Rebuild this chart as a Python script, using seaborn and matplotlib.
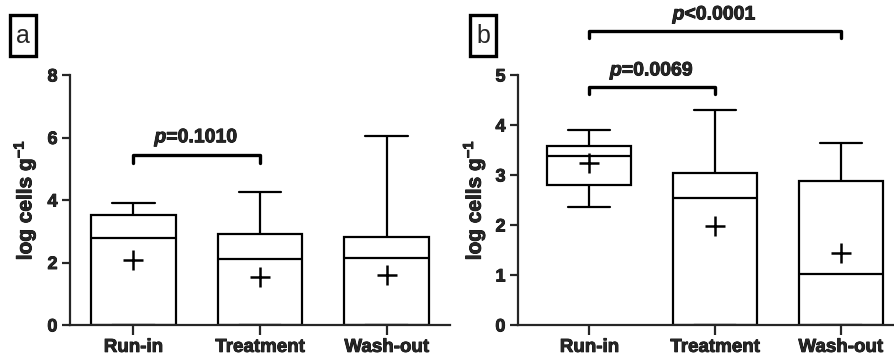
import numpy as np
import pandas as pd
import matplotlib
matplotlib.use("Agg")
import matplotlib.pyplot as plt
import matplotlib.patheffects as pe
from matplotlib.patches import Rectangle
import seaborn as sns

# ---------------- data ----------------
categories = ["Run-in", "Treatment", "Wash-out"]

# panel a: five-number summaries and means
a_min = [0.0, 0.0, 0.0]
a_q1 = [0.0, 0.0, 0.0]
a_median = [2.80, 2.10, 2.13]
a_q3 = [3.52, 2.90, 2.82]
a_max = [3.90, 4.27, 6.05]
a_mean = [2.08, 1.55, 1.60]

# panel b
b_min = [2.36, 0.0, 0.0]
b_q1 = [2.81, 0.0, 0.0]
b_median = [3.38, 2.54, 1.02]
b_q3 = [3.59, 3.05, 2.89]
b_max = [3.90, 4.30, 3.65]
b_mean = [3.25, 1.99, 1.44]

# comparisons: (group i, group j, label)
a_tests = [(0, 1, "=0.1010")]
b_tests = [(0, 1, "=0.0069"), (0, 2, "<0.0001")]

a_yticks = [0, 2, 4, 6, 8]
b_yticks = [0, 1, 2, 3, 4, 5]

# ---------------- style ----------------
sns.set_style("ticks")
plt.rcParams["font.family"] = ["Liberation Sans", "DejaVu Sans"]
plt.rcParams["font.weight"] = "bold"
plt.rcParams["axes.labelweight"] = "bold"
plt.rcParams["mathtext.fontset"] = "custom"
plt.rcParams["mathtext.rm"] = "Liberation Sans:bold"
plt.rcParams["mathtext.bf"] = "Liberation Sans:bold"
plt.rcParams["mathtext.it"] = "Liberation Sans:italic:bold"

thick = [pe.withStroke(linewidth=0.6, foreground="black")]


def long_frame(mins, q1s, meds, q3s, maxs):
    rows = []
    for c, vals in zip(categories, zip(mins, q1s, meds, q3s, maxs)):
        for v in vals:
            rows.append({"period": c, "value": v})
    return pd.DataFrame(rows)


fig = plt.figure(figsize=(8.95, 3.55), dpi=100)
ax_a = fig.add_axes([70 / 895, 30 / 355, 380 / 895, 250 / 355])
ax_b = fig.add_axes([518 / 895, 30 / 355, 377 / 895, 250 / 355])


def draw_panel(ax, df, means, yticks, xlim, tests, bracket_y, drop, text_gap):
    sns.boxplot(data=df, x="period", y="value", order=categories, whis=(0, 100),
                width=0.67, color="white", linecolor="black", linewidth=1.6,
                saturation=1, ax=ax)
    sns.pointplot(x=categories, y=means, order=categories, color="black",
                  marker="+", linestyle="none", markersize=15,
                  markeredgewidth=1.8, errorbar=None, ax=ax)
    ax.set_ylim(yticks[0], yticks[-1])
    ax.set_yticks(yticks)
    ax.set_xlim(*xlim)
    ax.set_xlabel("")
    ax.set_ylabel(r"log cells g$^{-1}$", fontsize=15, fontweight="bold",
                  path_effects=thick)
    ax.tick_params(axis="y", labelsize=13, width=1.6, length=6, pad=3)
    ax.tick_params(axis="x", labelsize=13.5, width=1.6, length=7, pad=3)
    for lab in ax.get_xticklabels() + ax.get_yticklabels():
        lab.set_fontweight("bold")
        lab.set_path_effects(thick)
    sns.despine(ax=ax)
    for s in ["left", "bottom"]:
        ax.spines[s].set_linewidth(1.6)
    for (i, j, lab), by in zip(tests, bracket_y):
        ax.plot([i, i, j, j], [by - drop, by, by, by - drop], color="black",
                lw=2.4, solid_capstyle="round", solid_joinstyle="round",
                clip_on=False)
        ax.text((i + j) / 2, by + text_gap, r"$p$" + lab, ha="center",
                va="center", fontsize=14, fontweight="bold", clip_on=False,
                path_effects=thick)


draw_panel(ax_a, long_frame(a_min, a_q1, a_median, a_q3, a_max), a_mean,
           a_yticks, (-0.5, 2.5), a_tests, [5.44], 0.26, 0.55)
draw_panel(ax_b, long_frame(b_min, b_q1, b_median, b_q3, b_max), b_mean,
           b_yticks, (-0.568, 2.432), b_tests, [4.77, 5.89], 0.155, 0.31)

ax_a.yaxis.set_label_coords(-0.085, 0.5)
ax_b.yaxis.set_label_coords(-0.082, 0.5)

for x0, lab in [(10, "a"), (470, "b")]:
    fig.patches.append(Rectangle((x0 / 895, 1 - 56 / 355), 26 / 895, 41 / 355,
                                 transform=fig.transFigure, fc="white",
                                 ec="black", lw=2.4))
    fig.text((x0 + 13) / 895, 1 - 36 / 355, lab, ha="center", va="center",
             fontsize=18, fontweight="normal")

fig.savefig("out.png", dpi=100)
